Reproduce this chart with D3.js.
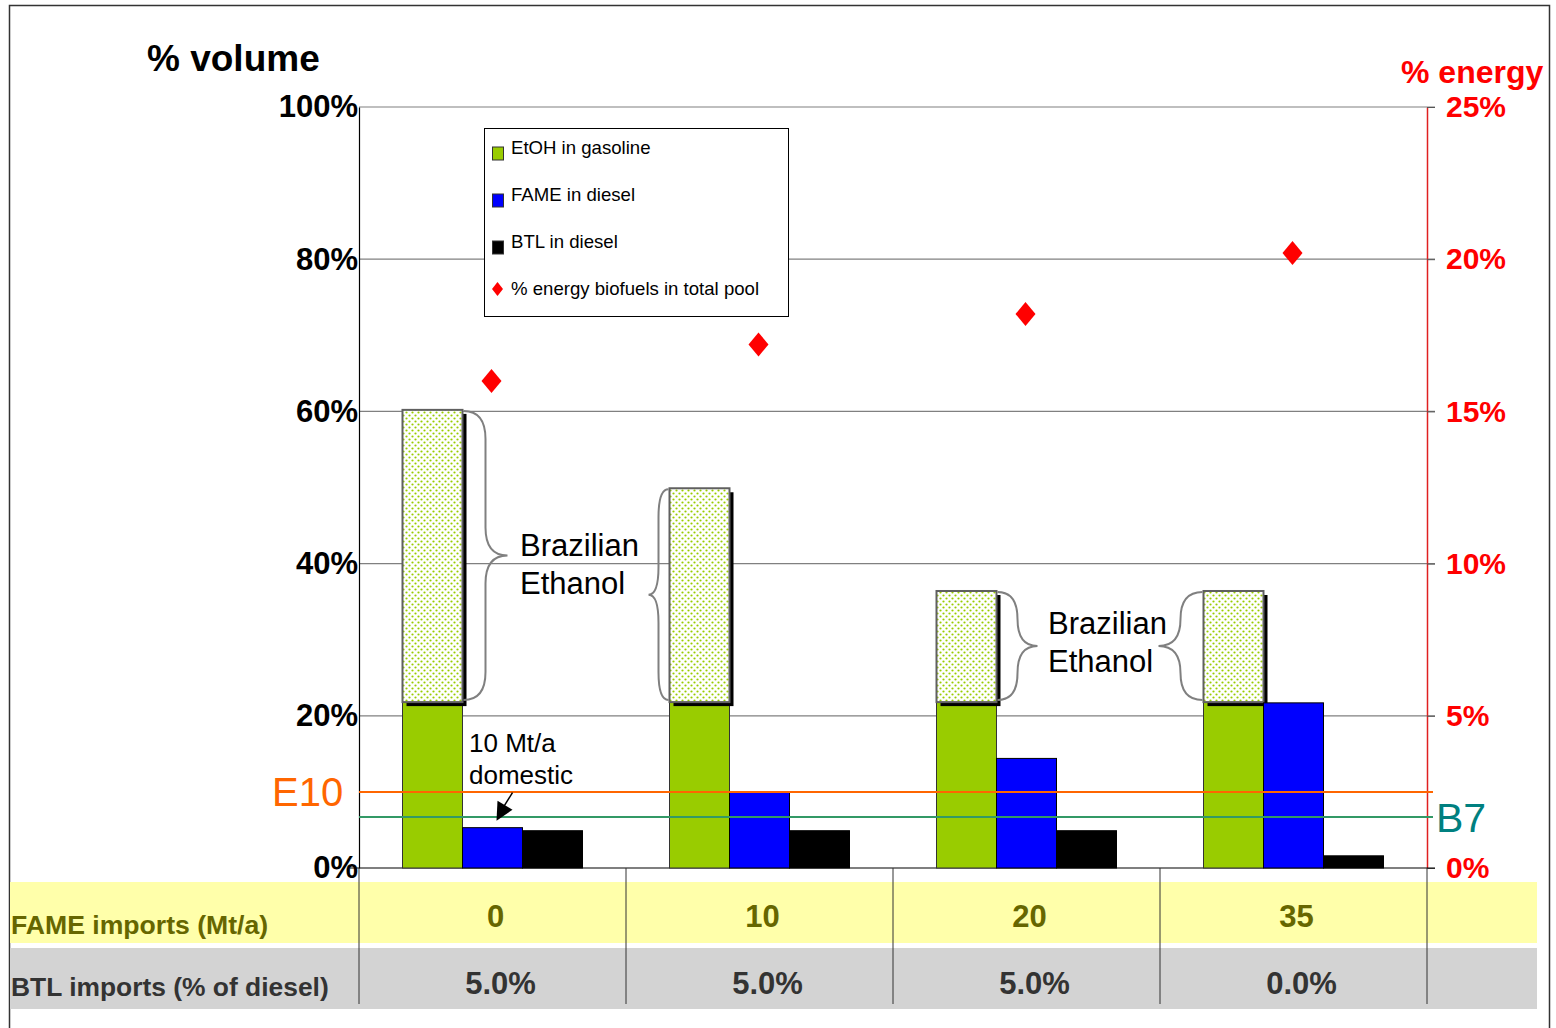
<!DOCTYPE html>
<html>
<head>
<meta charset="utf-8">
<script src="https://cdn.jsdelivr.net/npm/d3@7"></script>
<style>
  body { margin: 0; background: #fff; }
  svg text { font-family: "Liberation Sans", Arial, sans-serif; }
</style>
</head>
<body>
<svg id="chart" width="1556" height="1028"></svg>
<script>
// scenario categories (FAME imports, Mt/a)
const categories = ["0", "10", "20", "35"];
const btlImports = ["5.0%", "5.0%", "5.0%", "0.0%"];
// % volume values
const etohDomestic = [21.8, 21.8, 21.8, 21.8];
const etohBrazil = [38.4, 28.1, 14.6, 14.6];
const fameDiesel = [5.3, 10.0, 14.4, 21.7];
const btlDiesel = [4.9, 4.9, 4.9, 1.6];
// % energy biofuels in total pool (right axis)
const energyPool = [16.0, 17.2, 18.2, 20.2];
const leftTicks = [0, 20, 40, 60, 80, 100];
const rightTicks = [0, 5, 10, 15, 20, 25];
const e10Level = 10;
const b7Level = 6.7;

const dims = { left: 359, right: 1427, top: 107, bottom: 868 };

const svg = d3.select("#chart");

// outer frame
svg.append("rect")
  .attr("x", 9.5).attr("y", 5.5)
  .attr("width", 1540).attr("height", 1040)
  .attr("fill", "none").attr("stroke", "#333").attr("stroke-width", 1.5);

// pattern for the imported (Brazilian) ethanol
const defs = svg.append("defs");
const pat = defs.append("pattern")
  .attr("id", "dots").attr("width", 6).attr("height", 6)
  .attr("patternUnits", "userSpaceOnUse");
pat.append("rect").attr("width", 6).attr("height", 6).attr("fill", "#fff");
pat.append("circle").attr("cx", 1.5).attr("cy", 1.5).attr("r", 1.1).attr("fill", "#99cc00");
pat.append("circle").attr("cx", 4.5).attr("cy", 4.5).attr("r", 1.1).attr("fill", "#99cc00");

// scales
const xScale = d3.scaleBand()
  .domain(categories)
  .range([dims.left, dims.right])
  .padding(0);

const xSub = d3.scaleBand()
  .domain(["etoh", "fame", "btl"])
  .range([0, xScale.bandwidth()])
  .paddingInner(0)
  .paddingOuter(0.725);

const yLeft = d3.scaleLinear().domain([0, 100]).range([dims.bottom, dims.top]);
const yRight = d3.scaleLinear().domain([0, 25]).range([dims.bottom, dims.top]);

// table rows below the chart
svg.append("rect").attr("x", 10).attr("y", 882).attr("width", 1527).attr("height", 61).attr("fill", "#ffffaa");
svg.append("rect").attr("x", 10).attr("y", 948).attr("width", 1527).attr("height", 61).attr("fill", "#d3d3d3");

// gridlines
svg.append("g")
  .selectAll("line")
  .data(leftTicks.filter((d) => d > 0))
  .join("line")
  .attr("x1", dims.left).attr("x2", dims.right + 8)
  .attr("y1", (d) => yLeft(d)).attr("y2", (d) => yLeft(d))
  .attr("stroke", "#808080").attr("stroke-width", 1.2);

// left axis
const leftAxis = svg.append("g")
  .attr("transform", "translate(" + dims.left + ",0)")
  .call(d3.axisLeft(yLeft).tickValues(leftTicks).tickSize(0).tickPadding(1).tickFormat((d) => d + "%"));
leftAxis.select(".domain").attr("stroke", "#000").attr("stroke-width", 1.2);
leftAxis.selectAll("text")
  .attr("fill", "#000").style("font-size", "31px").style("font-weight", "bold");

// right axis
const rightAxis = svg.append("g")
  .attr("transform", "translate(" + dims.right + ",0)")
  .call(d3.axisRight(yRight).tickValues(rightTicks).tickSize(8).tickSizeOuter(0).tickPadding(11).tickFormat((d) => d + "%"));
rightAxis.select(".domain").attr("stroke", "#e02020").attr("stroke-width", 1.5);
rightAxis.selectAll(".tick line").attr("stroke", "#555");
rightAxis.selectAll("text")
  .attr("fill", "#ff0000").style("font-size", "30px").style("font-weight", "bold");

// bottom axis line + small 0% tick
svg.append("line")
  .attr("x1", dims.left - 9).attr("x2", dims.right + 8)
  .attr("y1", dims.bottom).attr("y2", dims.bottom)
  .attr("stroke", "#000").attr("stroke-width", 1.2);

// category separators running into the table
svg.append("g")
  .selectAll("line")
  .data(categories.map((c) => xScale(c)).concat([dims.right]))
  .join("line")
  .attr("x1", (d) => d).attr("x2", (d) => d)
  .attr("y1", dims.bottom).attr("y2", 1004)
  .attr("stroke", "#333").attr("stroke-width", 1);

// legend box
const legend = svg.append("g");
legend.append("rect")
  .attr("x", 484.5).attr("y", 128.5).attr("width", 304).attr("height", 188)
  .attr("fill", "#fff").attr("stroke", "#000").attr("stroke-width", 1);
const legendItems = [
  { label: "EtOH in gasoline", color: "#99cc00", shape: "rect" },
  { label: "FAME in diesel", color: "#0000ff", shape: "rect" },
  { label: "BTL in diesel", color: "#000000", shape: "rect" },
  { label: "% energy biofuels in total pool", color: "#ff0000", shape: "diamond" },
];
legendItems.forEach(function (item, i) {
  const cy = 154 + i * 47;
  if (item.shape === "rect") {
    legend.append("rect")
      .attr("x", 492.5).attr("y", cy - 7).attr("width", 11).attr("height", 13)
      .attr("fill", item.color).attr("stroke", "#333").attr("stroke-width", 1);
  } else {
    legend.append("path")
      .attr("d", `M497.5,${cy - 13} L503,${cy - 6} L497.5,${cy + 1} L492,${cy - 6} Z`)
      .attr("fill", item.color);
  }
  legend.append("text")
    .attr("x", 511).attr("y", cy)
    .style("font-size", "18.6px").attr("fill", "#000")
    .text(item.label);
});

// bars
const bars = svg.append("g");
categories.forEach(function (c, i) {
  const x0 = xScale(c);
  const w = xSub.bandwidth();
  // domestic ethanol
  bars.append("rect")
    .attr("x", x0 + xSub("etoh")).attr("y", yLeft(etohDomestic[i]))
    .attr("width", w).attr("height", yLeft(0) - yLeft(etohDomestic[i]))
    .attr("fill", "#99cc00").attr("stroke", "#333").attr("stroke-width", 1);
  // Brazilian ethanol on top, with shadow
  const topY = yLeft(etohDomestic[i] + etohBrazil[i]);
  const botY = yLeft(etohDomestic[i]);
  bars.append("rect")
    .attr("x", x0 + xSub("etoh") + 4).attr("y", topY + 4)
    .attr("width", w).attr("height", botY - topY)
    .attr("fill", "#000");
  bars.append("rect")
    .attr("x", x0 + xSub("etoh")).attr("y", topY)
    .attr("width", w).attr("height", botY - topY)
    .attr("fill", "url(#dots)").attr("stroke", "#606060").attr("stroke-width", 2);
  // FAME
  bars.append("rect")
    .attr("x", x0 + xSub("fame")).attr("y", yLeft(fameDiesel[i]))
    .attr("width", w).attr("height", yLeft(0) - yLeft(fameDiesel[i]))
    .attr("fill", "#0000ff").attr("stroke", "#000").attr("stroke-width", 1);
  // BTL
  bars.append("rect")
    .attr("x", x0 + xSub("btl")).attr("y", yLeft(btlDiesel[i]))
    .attr("width", w).attr("height", yLeft(0) - yLeft(btlDiesel[i]))
    .attr("fill", "#000").attr("stroke", "#000").attr("stroke-width", 1);
});

// E10 / B7 limit lines over the bars
svg.append("line")
  .attr("x1", dims.left).attr("x2", dims.right + 6)
  .attr("y1", yLeft(e10Level)).attr("y2", yLeft(e10Level))
  .attr("stroke", "#ff6600").attr("stroke-width", 2);
svg.append("line")
  .attr("x1", dims.left).attr("x2", dims.right + 6)
  .attr("y1", yLeft(b7Level)).attr("y2", yLeft(b7Level))
  .attr("stroke", "#339966").attr("stroke-width", 2);

// energy diamonds
svg.append("g")
  .selectAll("path")
  .data(energyPool)
  .join("path")
  .attr("transform", (d, i) => "translate(" + (xScale(categories[i]) + xScale.bandwidth() / 2 - 1) + "," + yRight(d) + ")")
  .attr("d", "M0,-12 L10,0 L0,12 L-10,0 Z")
  .attr("fill", "#ff0000");

// curly braces for Brazilian ethanol
function bracePath(x, y0, y1, q) {
  const ym = (y0 + y1) / 2;
  const r = Math.min(28, (y1 - y0) / 4);
  return `M${x},${y0} Q${x + q},${y0} ${x + q},${y0 + r} L${x + q},${ym - r} Q${x + q},${ym} ${x + 2 * q},${ym}` +
    ` Q${x + q},${ym} ${x + q},${ym + r} L${x + q},${y1 - r} Q${x + q},${y1} ${x},${y1}`;
}
const braceSpec = [
  { side: 1, q: 22 },
  { side: -1, q: -10 },
  { side: 1, q: 20 },
  { side: -1, q: -22 },
];
categories.forEach(function (c, i) {
  const xl = xScale(c) + xSub("etoh");
  const x = braceSpec[i].side > 0 ? xl + xSub.bandwidth() + 1 : xl - 1;
  svg.append("path")
    .attr("d", bracePath(x, yLeft(etohDomestic[i] + etohBrazil[i]) + 1, yLeft(etohDomestic[i]) - 2, braceSpec[i].q))
    .attr("fill", "none").attr("stroke", "#808080").attr("stroke-width", 2);
});

// annotation texts
function label(x, y, txt, size, color, weight, anchor) {
  return svg.append("text")
    .attr("x", x).attr("y", y)
    .style("font-size", size + "px")
    .style("font-weight", weight || "normal")
    .attr("fill", color)
    .attr("text-anchor", anchor || "start")
    .text(txt);
}
label(520, 556, "Brazilian", 31, "#000");
label(520, 594, "Ethanol", 31, "#000");
label(1048, 634, "Brazilian", 31, "#000");
label(1048, 672, "Ethanol", 31, "#000");
label(469, 752, "10 Mt/a", 26, "#000");
label(469, 784, "domestic", 26, "#000");

// arrow to the domestic FAME bar
const tipX = xScale(categories[0]) + xSub("fame") + xSub.bandwidth() / 2 + 4;
const tipY = yLeft(fameDiesel[0]) - 7;
svg.append("line")
  .attr("x1", tipX + 16).attr("y1", tipY - 28)
  .attr("x2", tipX + 6).attr("y2", tipY - 12)
  .attr("stroke", "#000").attr("stroke-width", 1.5);
svg.append("path")
  .attr("d", `M${tipX},${tipY} L${tipX + 1},${tipY - 20} L${tipX + 16},${tipY - 11} Z`)
  .attr("fill", "#000");

label(272, yLeft(e10Level) + 14, "E10", 40, "#ff6600");
label(1436, yLeft(b7Level) + 15, "B7", 41, "#008080");

// titles
label(147, 71, "% volume", 37, "#000", "bold");
label(1401, 83, "% energy", 32, "#ff0000", "bold");

// table text
label(11, 934, "FAME imports (Mt/a)", 26.6, "#666600", "bold");
label(11, 996, "BTL imports (% of diesel)", 26.4, "#333", "bold");
categories.forEach(function (c, i) {
  const cx = xScale(c) + xScale.bandwidth() / 2 + 3;
  label(cx, 927, c, 31, "#666600", "bold", "middle");
  label(cx + 5, 994, btlImports[i], 31, "#333", "bold", "middle");
});
</script>
</body>
</html>
